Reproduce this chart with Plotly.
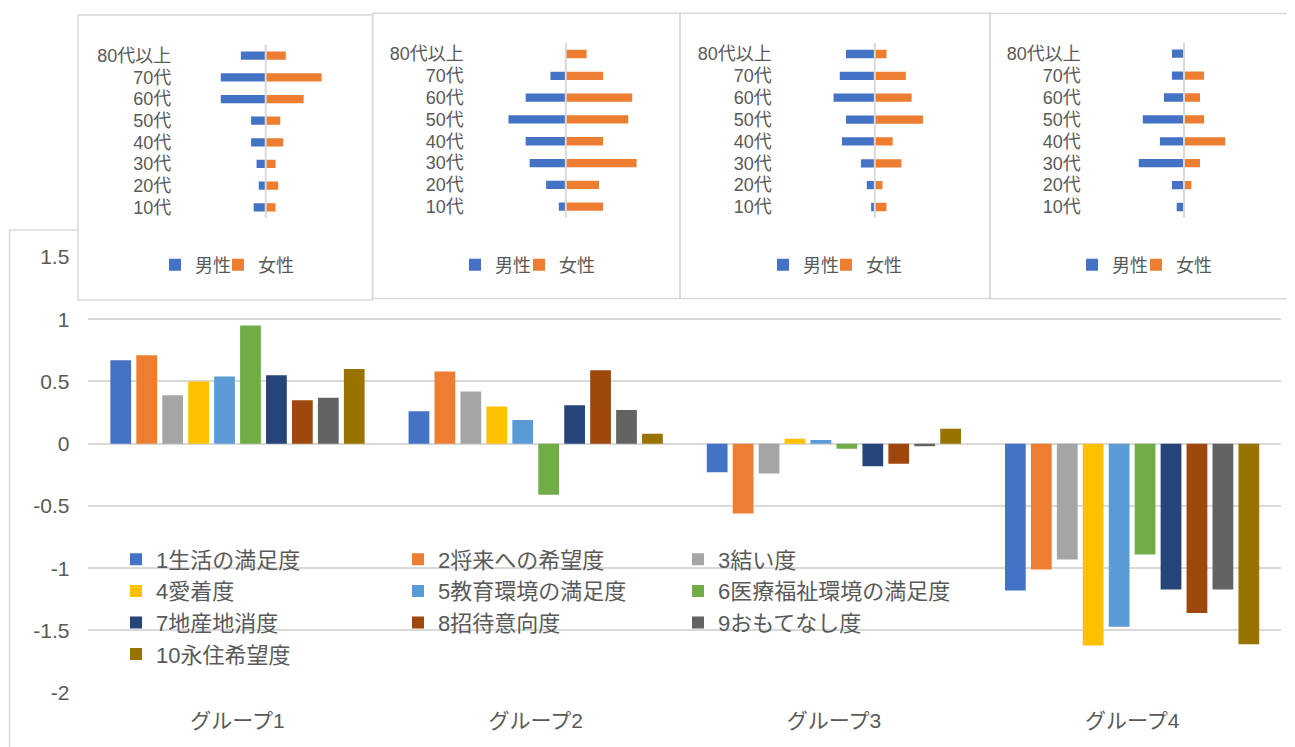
import plotly.graph_objects as go

W, H = 1295, 747
OFF = 8  # margem do <body> da página
FONT = "Liberation Sans, Noto Sans CJK JP"
GRIS_TEXTO = "#595959"
GRIS_LINHA = "#D9D9D9"

# ------------------------------------------------------------
# dados
# ------------------------------------------------------------
grupos = ["グループ1", "グループ2", "グループ3", "グループ4"]
series = ["1生活の満足度", "2将来への希望度", "3結い度", "4愛着度", "5教育環境の満足度",
          "6医療福祉環境の満足度", "7地産地消度", "8招待意向度", "9おもてなし度", "10永住希望度"]
cores = ["#4472C4", "#ED7D31", "#A5A5A5", "#FFC000", "#5B9BD5",
         "#70AD47", "#264478", "#9E480E", "#636363", "#997300"]

grupo1 = [0.67, 0.71, 0.39, 0.50, 0.54, 0.95, 0.55, 0.35, 0.37, 0.60]
grupo2 = [0.26, 0.58, 0.42, 0.30, 0.19, -0.41, 0.31, 0.59, 0.27, 0.08]
grupo3 = [-0.23, -0.56, -0.24, 0.04, 0.03, -0.04, -0.18, -0.16, -0.02, 0.12]
grupo4 = [-1.18, -1.01, -0.93, -1.62, -1.47, -0.89, -1.17, -1.36, -1.17, -1.61]

y_ticks = [-2, -1.5, -1, -0.5, 0, 0.5, 1, 1.5]
y_ticktext = ["-2", "-1.5", "-1", "-0.5", "0", "0.5", "1", "1.5"]

# pirâmides (10代 -> 80代以上)
idades = ["10代", "20代", "30代", "40代", "50代", "60代", "70代", "80代以上"]
homens1 = [3.3, 1.9, 2.5, 4.0, 4.0, 12.3, 12.3, 6.8]
mulheres1 = [2.7, 3.4, 2.7, 4.8, 4.0, 10.4, 15.3, 5.5]
homens2 = [1.9, 5.4, 9.9, 11.0, 15.7, 11.0, 4.2, 0]
mulheres2 = [10.2, 9.1, 19.4, 10.2, 17.1, 18.2, 10.2, 5.7]
homens3 = [1.0, 2.2, 3.8, 9.0, 7.9, 11.3, 9.6, 7.9]
mulheres3 = [3.2, 2.1, 7.3, 4.9, 13.2, 10.1, 8.5, 3.2]
homens4 = [2.0, 3.3, 12.4, 6.6, 11.3, 5.5, 3.3, 3.3]
mulheres4 = [0, 2.0, 4.4, 11.3, 5.5, 4.4, 5.5, 0]


def px_x(v):
    return min(max((v - OFF) / W, 0), 1)


def px_y(v):
    return min(max((H - (v - OFF)) / H, 0), 1)


fig = go.Figure()

# ------------------------------------------------------------
# gráfico principal
# ------------------------------------------------------------
por_grupo = [grupo1, grupo2, grupo3, grupo4]
colunas_legenda = ["legend", "legend2", "legend3"]
for i, nome in enumerate(series):
    fig.add_trace(go.Bar(
        x=grupos,
        y=[g[i] for g in por_grupo],
        name=nome,
        marker=dict(color=cores[i], line=dict(width=0)),
        legend=colunas_legenda[i % 3],
        legendgroup=nome,
        xaxis="x", yaxis="y",
    ))

# ------------------------------------------------------------
# pirâmides (inserções)
# ------------------------------------------------------------
caixas = [
    # x0, x1, y0, y1, centro, linha 10代, linha 80代以上, borda rótulos, legenda 男性, legenda 女性
    (78, 372.5, 15, 300, 265.7, 207.3, 55.7, 172.3, 155, 218),
    (372.7, 680, 13.3, 298.5, 565.8, 206.7, 54.0, 464.7, 455, 519),
    (680, 990, 13.3, 298.5, 874.8, 207.0, 54.0, 772.7, 763, 826),
    (990, 1303, 13.5, 298.7, 1184.0, 207.0, 53.7, 1081.7, 1072, 1136),
]
homens = [homens1, homens2, homens3, homens4]
mulheres = [mulheres1, mulheres2, mulheres3, mulheres4]
ESCALA = 3.65  # px por unidade

layout_extra = {}
shapes = [
    dict(type="rect", xref="paper", yref="paper", x0=px_x(9.5), x1=1.1,
         y0=-0.2, y1=px_y(230), line=dict(color=GRIS_LINHA, width=1.5), layer="below"),
]
n_leg = 4
for k, (bx0, bx1, by0, by1, cx, r0, r7, lab, leg_h, leg_m) in enumerate(caixas):
    n = k + 2
    xa, ya = f"x{n}", f"y{n}"
    for nome, cor, vals, sinal, lx in [("男性", "#4472C4", homens[k], -1, leg_h),
                                       ("女性", "#ED7D31", mulheres[k], 1, leg_m)]:
        leg = f"legend{n_leg}"
        n_leg += 1
        fig.add_trace(go.Bar(
            y=idades, x=[sinal * v for v in vals], orientation="h", name=nome,
            marker=dict(color=cor, line=dict(width=0)),
            width=0.38, offset=-0.19, xaxis=xa, yaxis=ya, legend=leg,
        ))
        layout_extra[leg] = dict(
            orientation="h", x=px_x(lx), xanchor="left", y=px_y(265), yanchor="middle",
            bgcolor="rgba(0,0,0,0)", font=dict(size=18, color=GRIS_TEXTO, family=FONT),
        )
    passo = (r0 - r7) / 7
    dom_x1 = min(bx1, W + OFF)
    layout_extra[f"xaxis{n}"] = dict(
        domain=[px_x(bx0), px_x(dom_x1)], anchor=ya, visible=False, automargin=False,
        range=[-(cx - bx0) / ESCALA, (dom_x1 - cx) / ESCALA], fixedrange=True,
    )
    layout_extra[f"yaxis{n}"] = dict(
        domain=[px_y(by1), px_y(by0)], anchor="free", position=px_x(lab - 1),
        type="category", categoryorder="array", categoryarray=idades,
        tickmode="array", tickvals=idades, ticktext=idades,
        range=[-(by1 - r0) / passo, 7 + (r7 - by0) / passo], automargin=False,
        showgrid=False, showline=False, zeroline=False, ticks="",
        tickfont=dict(size=18, color=GRIS_TEXTO, family=FONT), fixedrange=True,
    )
    shapes.append(dict(type="line", xref=xa, yref=ya, x0=0, x1=0, y0=-0.5, y1=7.5,
                       line=dict(color=GRIS_LINHA, width=2), layer="above"))
    shapes.append(dict(type="rect", xref="paper", yref="paper", x0=px_x(bx0),
                       x1=(bx1 - OFF) / W, y0=px_y(by1), y1=px_y(by0),
                       line=dict(color=GRIS_LINHA, width=1.5),
                       fillcolor="rgba(0,0,0,0)", layer="above"))

for nome_leg, lx in zip(colunas_legenda, [116, 398, 678]):
    layout_extra[nome_leg] = dict(
        orientation="v", x=px_x(lx), xanchor="left", y=px_y(538.5), yanchor="top",
        tracegroupgap=0, bgcolor="rgba(0,0,0,0)",
        font=dict(size=22, color=GRIS_TEXTO, family=FONT),
    )

fig.update_layout(
    width=W, height=H,
    margin=dict(l=0, r=0, t=0, b=0, autoexpand=False),
    paper_bgcolor="white", plot_bgcolor="white",
    font=dict(family=FONT, color=GRIS_TEXTO),
    barmode="group", bargap=0.13, bargroupgap=0.2,
    showlegend=True,
    xaxis=dict(
        domain=[px_x(88.4), px_x(1281.2)], anchor="y", automargin=False,
        showgrid=False, showline=False, zeroline=False, ticks="",
        tickfont=dict(size=21, color=GRIS_TEXTO, family=FONT),
        ticklabelstandoff=13, fixedrange=True,
    ),
    yaxis=dict(
        domain=[px_y(692.7), px_y(257)], anchor="x", automargin=False,
        range=[-2, 1.5], tickvals=y_ticks, ticktext=y_ticktext,
        showgrid=True, gridcolor=GRIS_LINHA, gridwidth=2,
        zeroline=True, zerolinecolor=GRIS_LINHA, zerolinewidth=2,
        showline=False, ticks="", ticklabelstandoff=18,
        tickfont=dict(size=21, color=GRIS_TEXTO, family=FONT), fixedrange=True,
    ),
    shapes=shapes,
    **layout_extra,
)

fig.write_html("out.html")
